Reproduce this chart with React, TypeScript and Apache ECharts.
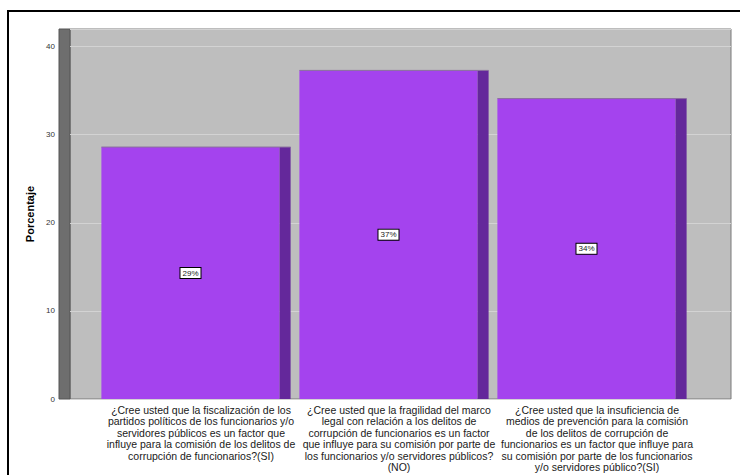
import React, { useEffect, useRef } from "react";
import * as echarts from "echarts";

const categories: string[] = [
  "¿Cree usted que la fiscalización de los\npartidos políticos de los funcionarios y/o\nservidores públicos es un factor que\ninfluye para la comisión de los delitos de\ncorrupción de funcionarios?(SI)",
  "¿Cree usted que la fragilidad del marco\nlegal con relación a los delitos de\ncorrupción de funcionarios es un factor\nque influye para su comisión por parte de\nlos funcionarios y/o servidores públicos?\n(NO)",
  "¿Cree usted que la insuficiencia de\nmedios de prevención para la comisión\nde los delitos de corrupción de\nfuncionarios es un factor que influye para\nsu comisión por parte de los funcionarios\ny/o servidores público?(SI)",
];
const percentages: number[] = [28.6, 37.3, 34.1];
const yTicks = { min: 0, max: 42, interval: 10 };
const yTitle = "Porcentaje";

const FONT = "'Liberation Sans', Arial, sans-serif";

export default function App() {
  const ref = useRef<HTMLDivElement>(null);
  useEffect(() => {
    if (!ref.current) return;
    const chart = echarts.init(ref.current, undefined, { renderer: "svg" });
    const data = percentages.map((v, i) => [i, v]);
    chart.setOption({
      animation: false,
      backgroundColor: "#ffffff",
      textStyle: { fontFamily: FONT },
      graphic: [
        {
          type: "rect",
          shape: { x: 8, y: 11, width: 800, height: 600 },
          style: { fill: "none", stroke: "#000", lineWidth: 2 },
          silent: true,
          z: 100,
        },
      ],
      grid: [
        { left: 70, right: 9, top: 29, bottom: 76, show: true, backgroundColor: "#bebebe", borderColor: "#7a7a7a", borderWidth: 1, z: 0 },
        { left: 97, right: 49, top: 29, bottom: 76, show: false },
        { left: 59, right: 670, top: 29, bottom: 76, show: true, backgroundColor: "#6e6e6e", borderColor: "#555555", borderWidth: 1, z: 0 },
      ],
      xAxis: [
        { gridIndex: 0, type: "value", min: 0, max: 1, show: false },
        {
          gridIndex: 1,
          type: "category",
          data: categories,
          axisLine: { show: false },
          axisTick: { show: false },
          axisLabel: {
            interval: 0,
            margin: 5,
            fontSize: 10.5,
            lineHeight: 11.5,
            color: "#1a1a1a",
            align: "center",
            padding: [0, 0, 0, 10],
            fontFamily: FONT,
          },
        },
        { gridIndex: 2, type: "value", min: 0, max: 1, show: false },
      ],
      yAxis: [
        {
          gridIndex: 0,
          type: "value",
          min: yTicks.min,
          max: yTicks.max,
          interval: yTicks.interval,
          name: yTitle,
          nameLocation: "middle",
          nameGap: 28,
          nameTextStyle: { fontWeight: "bold", fontSize: 11, color: "#000", fontFamily: FONT },
          axisLine: { show: false },
          axisTick: { show: false },
          axisLabel: { fontSize: 8, color: "#333", margin: 15, fontFamily: FONT, showMaxLabel: false },
          splitLine: { show: true, lineStyle: { color: "#d3d3d3", width: 1 } },
        },
        { gridIndex: 1, type: "value", min: yTicks.min, max: yTicks.max, show: false },
        { gridIndex: 2, type: "value", min: 0, max: 1, show: false },
      ],
      series: [
        {
          type: "custom",
          xAxisIndex: 1,
          yAxisIndex: 1,
          data,
          z: 10,
          renderItem: (params: any, api: any) => {
            const idx = api.value(0);
            const v = api.value(1);
            const top = api.coord([idx, v]);
            const base = api.coord([idx, 0]);
            const band = api.size([1, 0])[0];
            const front = band * 0.9;
            const side = band * 0.0556;
            const left = top[0] - (front + side) / 2;
            const h = base[1] - top[1];
            return {
              type: "group",
              children: [
                {
                  type: "rect",
                  shape: { x: left, y: top[1], width: front, height: h },
                  style: { fill: "#a443ee" },
                },
                {
                  type: "rect",
                  shape: { x: left + front, y: top[1], width: side, height: h },
                  style: { fill: "#64289b" },
                },
                {
                  type: "line",
                  shape: { x1: left, y1: top[1], x2: left + front + side, y2: top[1] },
                  style: { stroke: "#8a6f9e", lineWidth: 1 },
                },
                {
                  type: "text",
                  x: left + front / 2,
                  y: top[1] + h / 2,
                  style: {
                    text: Math.round(v) + "%",
                    fontSize: 8,
                    fontFamily: FONT,
                    fill: "#222",
                    align: "center",
                    verticalAlign: "middle",
                    backgroundColor: "#ffffff",
                    borderColor: "#000000",
                    borderWidth: 1,
                    padding: [1, 2, 1, 2],
                  },
                },
              ],
            };
          },
        },
      ],
    });
    return () => chart.dispose();
  }, []);
  return (
    <div
      ref={ref}
      style={{ position: "absolute", left: 0, top: 0, width: 740, height: 475 }}
    />
  );
}
